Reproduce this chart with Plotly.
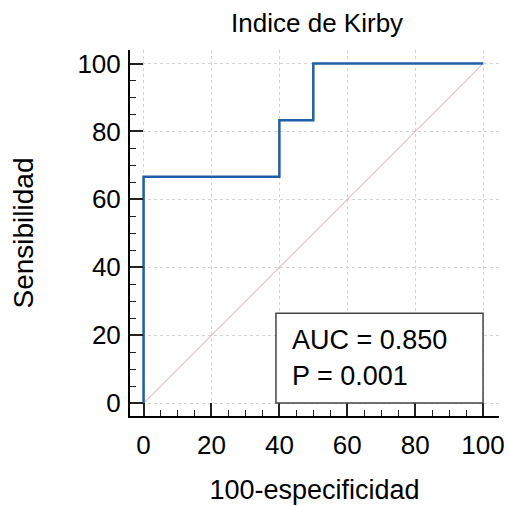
import plotly.graph_objects as go

# ROC curve data
fpr = [0, 0, 40, 40, 50, 50, 100]
tpr = [0, 66.67, 66.67, 83.33, 83.33, 100, 100]
diag_x = [0, 100]
diag_y = [0, 100]
title_text = "Indice de Kirby"
x_title = "100-especificidad"
y_title = "Sensibilidad"
auc_text = "AUC = 0.850"
p_text = "P = 0.001"
tick_vals = [0, 20, 40, 60, 80, 100]

FONT = "Liberation Sans, Arial, sans-serif"

fig = go.Figure()
fig.add_trace(go.Scatter(x=diag_x, y=diag_y, mode="lines",
                         line=dict(color="#e2a3a8", width=1), hoverinfo="skip"))
fig.add_trace(go.Scatter(x=fpr, y=tpr, mode="lines",
                         line=dict(color="#1f5ea8", width=2.5, shape="linear")))

axis_common = dict(
    showline=True, linecolor="black", linewidth=2,
    ticks="inside", ticklen=13, tickwidth=1.5, tickcolor="#222",
    tickvals=tick_vals,
    minor=dict(dtick=5, ticks="inside", ticklen=6, tickwidth=1, tickcolor="#222", showgrid=False),
    showgrid=True, gridcolor="#d4d4d4", griddash="dot", gridwidth=1,
    zeroline=False, mirror=False, automargin=False,
    tickfont=dict(size=26, color="black", family=FONT),
)

fig.update_layout(
    width=509, height=506,
    margin=dict(l=130, r=10, t=50, b=90),
    plot_bgcolor="white", paper_bgcolor="white",
    showlegend=False,
    title=dict(text=title_text, x=0.623, xanchor="center", y=0.955, yanchor="middle",
               font=dict(size=26, color="black", family=FONT)),
    xaxis=dict(range=[-4, 104.7], title=dict(text=x_title, standoff=21,
               font=dict(size=27, color="black", family=FONT)),
               ticklabelstandoff=5, **axis_common),
    yaxis=dict(range=[-3.8, 104], title=dict(text=y_title, standoff=36,
               font=dict(size=28, color="black", family=FONT)),
               ticklabelstandoff=2, **axis_common),
)

fig.add_shape(type="rect", xref="x", yref="y", x0=39, x1=100, y0=0, y1=26.5,
              line=dict(color="#444", width=1.5), fillcolor="white", layer="above")
fig.add_annotation(xref="x", yref="y", x=43, y=18.5, text=auc_text, showarrow=False,
                   xanchor="left", yanchor="middle",
                   font=dict(size=27, color="black", family=FONT))
fig.add_annotation(xref="x", yref="y", x=43, y=8, text=p_text, showarrow=False,
                   xanchor="left", yanchor="middle",
                   font=dict(size=27, color="black", family=FONT))

fig.write_html("out.html")
